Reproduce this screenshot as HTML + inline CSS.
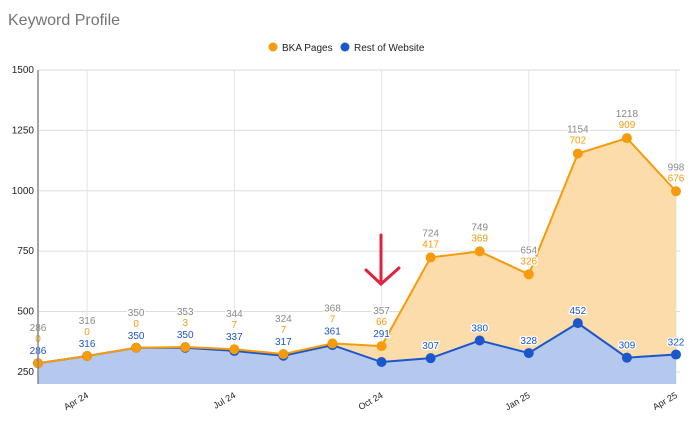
<!DOCTYPE html>
<html><head><meta charset="utf-8"><style>
body{margin:0;background:#fff;font-family:"Liberation Sans",Arial,sans-serif}
svg text{font-family:"Liberation Sans",Arial,sans-serif}
</style></head><body>
<svg id="c" width="694" height="416">
<text x="8" y="25" font-size="16" fill="#757575">Keyword Profile</text>
<g>
<circle cx="273" cy="47" r="4.5" fill="#f59b0c"/>
<text x="282" y="51" font-size="10" fill="#222">BKA Pages</text>
<circle cx="345" cy="47" r="4.5" fill="#1a56cc"/>
<text x="354" y="51" font-size="10" fill="#222">Rest of Website</text>
</g>
<g id="grid"></g><g id="areas"></g><g id="lines"></g><g id="labels"></g><g id="axes"></g>
<g stroke="#e0223a" stroke-width="3" fill="none" stroke-linecap="round">
<line x1="381" y1="235" x2="381" y2="284"/><polyline points="366,270 381,284 399,268"/>
</g>
</svg>
<script>
const categories=["Mar 24","Apr 24","May 24","Jun 24","Jul 24","Aug 24","Sep 24","Oct 24","Nov 24","Dec 24","Jan 25","Feb 25","Mar 25","Apr 25"];
const restValues=[286,316,350,350,337,317,361,291,307,380,328,452,309,322];
const bkaValues=[0,0,0,3,7,7,7,66,417,369,326,702,909,676];
const yTicks=[250,500,750,1000,1250,1500];
const xTickLabels={1:"Apr 24",4:"Jul 24",7:"Oct 24",10:"Jan 25",13:"Apr 25"};
const NS="http://www.w3.org/2000/svg";
const X0=38,X1=676,YB=384,YT=70,YMIN=200,YMAX=1500;
const x=i=>X0+(X1-X0)*i/(categories.length-1);
const y=v=>YB-(v-YMIN)/(YMAX-YMIN)*(YB-YT);
function mk(tag,attrs,parent){const e=document.createElementNS(NS,tag);for(const k in attrs)e.setAttribute(k,attrs[k]);document.getElementById(parent).appendChild(e);return e;}
yTicks.forEach(t=>{
 const l=mk("line",{x1:X0,x2:680,y1:y(t),y2:y(t),stroke:"#ddd"},"grid");
 
 
 const tx=mk("text",{x:34,y:y(t)+3,"font-size":10,fill:"#222","text-anchor":"end"},"axes");
 tx.textContent=t;
 
 
});
for(const i in xTickLabels){
 const l=mk("line",{x1:x(i),x2:x(i),y1:YT,y2:YB,stroke:"#e3e3e3"},"grid");
 
 
 const tx=mk("text",{x:x(i)+2,y:YB+13,"font-size":9,fill:"#222","text-anchor":"end",transform:`rotate(-30 ${x(i)+2} ${YB+13})`},"axes");
 tx.textContent=xTickLabels[i];
 
 
}
const ax=mk("line",{x1:X0,x2:X0,y1:YT,y2:YB,stroke:"#888","stroke-width":1.5},"axes");


const tot=restValues.map((v,i)=>v+bkaValues[i]);
const ptsR=restValues.map((v,i)=>`${x(i)},${y(v)}`);
const ptsT=tot.map((v,i)=>`${x(i)},${y(v)}`);
const aT=mk("polygon",{points:ptsT.join(" ")+" "+ptsR.slice().reverse().join(" "),fill:"#fcdcaa"},"areas");


const aR=mk("polygon",{points:ptsR.join(" ")+` ${x(13)},${YB} ${x(0)},${YB}`,fill:"#b5c9ef"},"areas");


const lR=mk("polyline",{points:ptsR.join(" "),fill:"none",stroke:"#1a56cc","stroke-width":2},"lines");


const lT=mk("polyline",{points:ptsT.join(" "),fill:"none",stroke:"#f59b0c","stroke-width":2},"lines");


function lab(t,xx,yy,c,n){const e=mk("text",{x:xx,y:yy,"font-size":10,fill:c,"text-anchor":"middle",stroke:"#fff","stroke-width":2.5,"paint-order":"stroke"},"labels");e.textContent=t;}
categories.forEach((c,i)=>{
 const pr=mk("circle",{cx:x(i),cy:y(restValues[i]),r:5,fill:"#1a56cc"},"lines");
 
 
 const pt=mk("circle",{cx:x(i),cy:y(tot[i]),r:5,fill:"#f59b0c"},"lines");
 
 
 const yt=y(tot[i]);
 if(bkaValues[i]<100){
  lab(tot[i],x(i),yt-32,"#888","total-label");
  lab(bkaValues[i],x(i),yt-21,"#f59b0c","bka-label");
  lab(restValues[i],x(i),yt-9,"#1a56cc","rest-label");
 }else{
  lab(tot[i],x(i),yt-21,"#888","total-label");
  lab(bkaValues[i],x(i),yt-10,"#f59b0c","bka-label");
  lab(restValues[i],x(i),y(restValues[i])-9,"#1a56cc","rest-label");
 }
});
</script>
</body></html>
